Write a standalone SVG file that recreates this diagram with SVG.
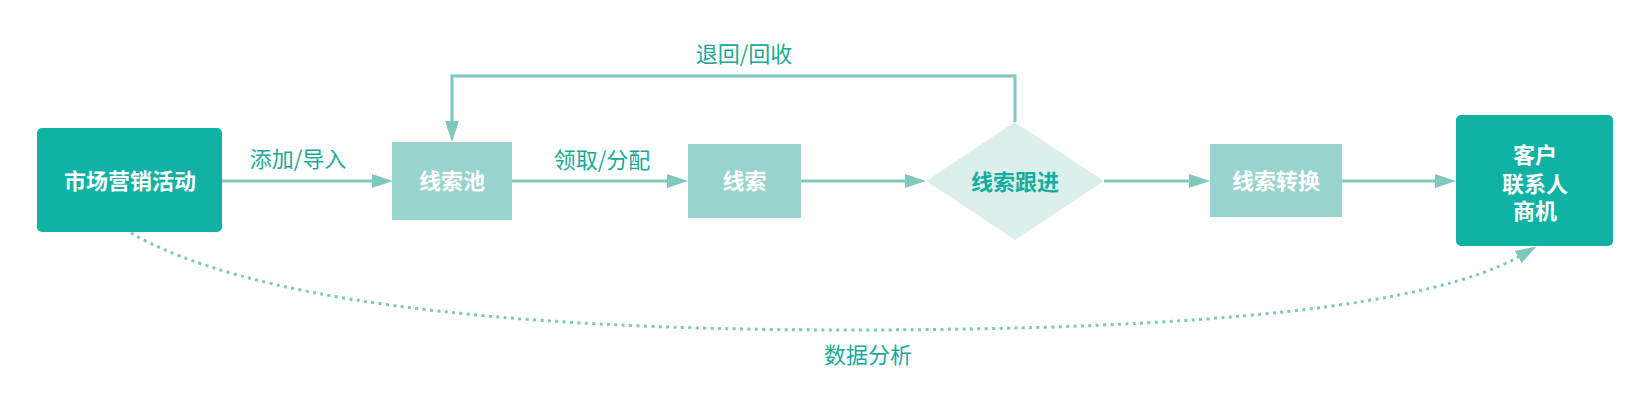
<svg xmlns="http://www.w3.org/2000/svg" width="1648" height="412" viewBox="0 0 1648 412">
<style>
.t{font-family:"Noto Sans CJK SC","Liberation Sans",sans-serif;font-size:22px;text-anchor:middle}
.nb{font-weight:bold;fill:#ffffff}
.lbl{fill:#1aa999}
.dk{fill:#0fb2a3}
.lt{fill:#98d4cd}
.ln{fill:none;stroke:#7ec8be;stroke-width:3}
.dot{fill:none;stroke:#7ec8be;stroke-width:3;stroke-dasharray:3 4.4}
</style>
<defs>
<marker id="ah" markerUnits="userSpaceOnUse" markerWidth="22" markerHeight="15" refX="2" refY="7" orient="auto">
<path d="M0,0 L21,7 L0,14 z" fill="#7ec8be"/>
</marker>
</defs>
<rect width="1648" height="412" fill="#ffffff"/>
<g id="connectors">
<path class="ln" d="M222,181 H374" marker-end="url(#ah)"/>
<path class="ln" d="M512,181 H669" marker-end="url(#ah)"/>
<path class="ln" d="M801,181 H907" marker-end="url(#ah)"/>
<path class="ln" d="M1104,181 H1191" marker-end="url(#ah)"/>
<path class="ln" d="M1342,181 H1437" marker-end="url(#ah)"/>
<path class="ln" d="M1015,122 V76 H452 V123" marker-end="url(#ah)"/>
<path class="dot" d="M131,233 Q300,330 850,330 Q1390,330 1520,256" marker-end="url(#ah)"/>
<text class="t lbl" x="298" y="167">添加/导入</text>
<text class="t lbl" x="602" y="168">领取/分配</text>
<text class="t lbl" x="744" y="62">退回/回收</text>
<text class="t lbl" x="868" y="363">数据分析</text>
</g>
<g id="n-market">
<rect class="dk" x="37" y="128" width="185" height="104" rx="5"/>
<text class="t nb" x="130" y="189">市场营销活动</text>
</g>
<g id="n-pool">
<rect class="lt" x="392" y="142" width="120" height="78"/>
<text class="t nb" x="452" y="189">线索池</text>
</g>
<g id="n-lead">
<rect class="lt" x="688" y="144" width="113" height="74"/>
<text class="t nb" x="744.5" y="189">线索</text>
</g>
<g id="n-follow">
<polygon points="1015,122 1104,181 1015,240 926,181" fill="#dcefed"/>
<text class="t" x="1015" y="190" font-weight="bold" fill="#12ad9c">线索跟进</text>
</g>
<g id="n-convert">
<rect class="lt" x="1210" y="144" width="132" height="73"/>
<text class="t nb" x="1276" y="189">线索转换</text>
</g>
<g id="n-customer">
<rect class="dk" x="1456" y="115" width="157" height="131" rx="5"/>
<text class="t nb" x="1535" y="163">客户</text>
<text class="t nb" x="1535" y="192">联系人</text>
<text class="t nb" x="1535" y="219">商机</text>
</g>
</svg>
